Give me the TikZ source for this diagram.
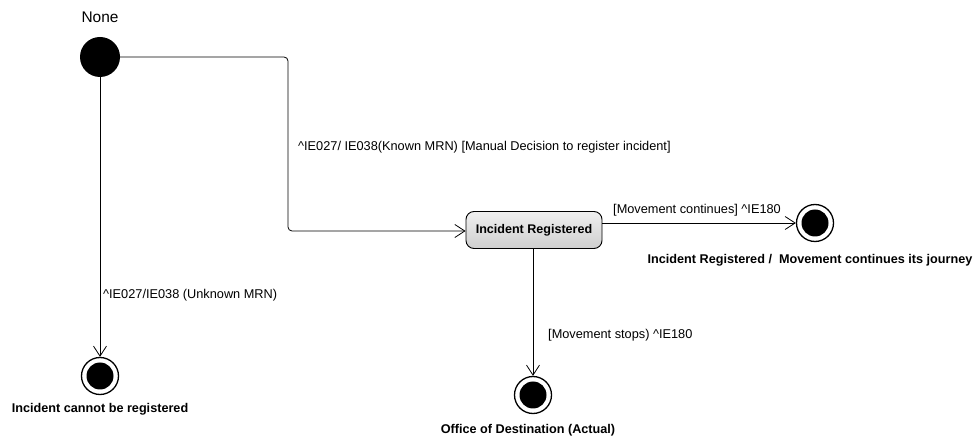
\documentclass[tikz,border=0pt]{standalone}
\usepackage{fontspec}
\setmainfont{Liberation Sans}
\usetikzlibrary{arrows.meta}

\tikzset{
  initstate/.style={circle, fill=black, minimum size=40bp, inner sep=0pt},
  finalstate/.style={circle, draw=black, line width=1.3bp, fill=white, minimum size=37bp, inner sep=0pt,
    path picture={\fill[black] (path picture bounding box.center) circle (13.5bp);}},
  statebox/.style={rectangle, rounded corners=8bp, draw=black, line width=0.9bp,
    top color=gray!12, bottom color=gray!38, minimum width=136bp, minimum height=37bp,
    font=\fontsize{12.6}{15}\selectfont\bfseries},
  trans/.style={draw, line width=0.8bp, -{Straight Barb[length=10bp,width=13bp]}, rounded corners=4bp},
  guard/.style={font=\fontsize{12.8}{15}\selectfont, inner sep=0pt, anchor=west},
  endname/.style={font=\fontsize{12.7}{15}\selectfont\bfseries, inner sep=0pt},
}

\begin{document}
\begin{tikzpicture}[x=1bp, y=-1bp]
        \useasboundingbox (0,0) rectangle (979,437);

        % states
        \node[initstate] (init) at (100,57) {};
        \node[font=\fontsize{15.5}{18}\selectfont, inner sep=0pt] (initName) at (100,17) {None};
        \node[statebox] (registered) at (534,230) {Incident Registered};
        \node[finalstate] (finCont) at (815,223) {};
        \node[finalstate] (finStop) at (533,395) {};
        \node[finalstate] (finNot) at (100,376) {};

        \node[endname] (contName) at (810,260) {Incident Registered /\ \ Movement continues its journey};
        \node[endname] (stopName) at (528,430) {Office of Destination (Actual)};
        \node[endname] (notName) at (100,409) {Incident cannot be registered};

        % transitions
        \coordinate (bend) at (288,231);
        \draw[trans] (init) -| (bend) -- (registered.west |- bend);
        \draw[trans] (registered.east |- finCont) -- (finCont);
        \draw[trans] (registered.south -| finStop) -- (finStop);
        \draw[trans] (init) -- (finNot);

        \node[guard] (lblKnown) at (298,147) {\textasciicircum IE027/ IE038(Known MRN) [Manual Decision to register incident]};
        \node[guard] (lblCont) at (613,210) {[Movement continues] \textasciicircum IE180};
        \node[guard] (lblStop) at (548,335) {[Movement stops) \textasciicircum IE180};
        \node[guard] (lblUnknown) at (103,295) {\textasciicircum IE027/IE038 (Unknown MRN)};
\end{tikzpicture}
\end{document}
